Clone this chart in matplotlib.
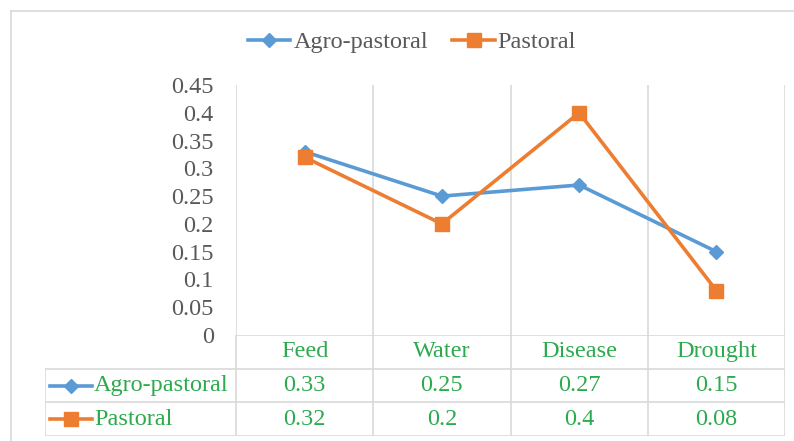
import matplotlib
matplotlib.use("Agg")
import matplotlib.pyplot as plt
from matplotlib.lines import Line2D

categories = ["Feed", "Water", "Disease", "Drought"]
agro = [0.33, 0.25, 0.27, 0.15]
pastoral = [0.32, 0.2, 0.4, 0.08]
series_names = ["Agro-pastoral", "Pastoral"]
cell_text = [["0.33", "0.25", "0.27", "0.15"], ["0.32", "0.2", "0.4", "0.08"]]
yticks = [0, 0.05, 0.1, 0.15, 0.2, 0.25, 0.3, 0.35, 0.4, 0.45]
ytick_labels = ["0", "0.05", "0.1", "0.15", "0.2", "0.25", "0.3", "0.35", "0.4", "0.45"]

BLUE = "#5B9BD5"
ORANGE = "#ED7D31"
GREEN = "#2DAA4E"
GRAY = "#595959"
GRID = "#D9D9D9"
FONT = "Liberation Serif"
FS = 17.5

W, H = 794, 441
fig = plt.figure(figsize=(W / 100, H / 100), dpi=100)
plt.rcParams["font.family"] = FONT


def fx(px):
    return px / W


def fy(py):
    return 1 - py / H

# outer chart border
fig.add_artist(Line2D([fx(11), fx(11)], [fy(11), fy(445)], color=GRID, lw=1.2))
fig.add_artist(Line2D([fx(11), fx(794)], [fy(11), fy(11)], color=GRID, lw=1.2))

# main axes
x0, x1 = 236, 785
ytop, ybot = 85, 335
ax = fig.add_axes([fx(x0), fy(ybot), fx(x1) - fx(x0), fy(ytop) - fy(ybot)])
ax.set_xlim(0, 4)
ax.set_ylim(0, 0.45)
xs = [i + 0.5 for i in range(len(categories))]
ax.plot(xs, agro, color=BLUE, lw=2.6, marker="D", ms=7, mfc=BLUE, mec=BLUE, label=series_names[0],
        solid_joinstyle="round", zorder=3)
ax.plot(xs, pastoral, color=ORANGE, lw=2.6, marker="s", ms=10, mfc=ORANGE, mec=ORANGE, label=series_names[1],
        solid_joinstyle="round", zorder=3)
for s in ax.spines.values():
    s.set_visible(False)
ax.set_xticks([])
ax.set_yticks(yticks)
ax.set_yticklabels(ytick_labels, fontsize=FS, color=GRAY, family=FONT)
ax.tick_params(axis="y", length=0, pad=16)
for xv in range(0, 5):
    ax.axvline(xv, color=GRID, lw=1.2, zorder=1)

# table axes, same x scale as main axes
unit = (x1 - x0) / 4.0
tl = 45
tx_left = (tl - x0) / unit
tb_top, tb_bot = 335, 436
tax = fig.add_axes([fx(tl), fy(tb_bot), fx(x1) - fx(tl), fy(tb_top) - fy(tb_bot)])
tax.set_xlim(tx_left, 4)
tax.set_ylim(0, 3)
tax.axis("off")
# horizontal lines
tax.plot([0, 4], [3, 3], color=GRID, lw=1.2)
for yv in [2, 1, 0]:
    tax.plot([tx_left, 4], [yv, yv], color=GRID, lw=1.2)
# vertical lines
for xv in range(0, 5):
    tax.plot([xv, xv], [0, 3], color=GRID, lw=1.2)
tax.plot([tx_left, tx_left], [0, 2], color=GRID, lw=1.2)

for i, c in enumerate(categories):
    tax.text(i + 0.5, 2.5, c, ha="center", va="center", color=GREEN, fontsize=FS, family=FONT)
for r, row in enumerate(cell_text):
    yc = 1.5 - r
    for i, t in enumerate(row):
        tax.text(i + 0.5, yc, t, ha="center", va="center", color=GREEN, fontsize=FS, family=FONT)

# legend keys in table
key_specs = [(BLUE, "D", 7), (ORANGE, "s", 10)]
for r, (col, mk, ms) in enumerate(key_specs):
    yc = 1.5 - r
    kx0 = (50 - x0) / unit
    kx1 = (92 - x0) / unit
    tax.plot([kx0, kx1], [yc, yc], color=col, lw=2.6, clip_on=False)
    tax.plot([(kx0 + kx1) / 2], [yc], color=col, marker=mk, ms=ms, clip_on=False)
    tax.text((94 - x0) / unit, yc, series_names[r], ha="left", va="center", color=GREEN,
             fontsize=FS, family=FONT)

# top legend
fig.legend(loc="center", bbox_to_anchor=(fx(412), fy(42)), ncol=2, frameon=False,
           prop={"family": FONT, "size": FS}, labelcolor=GRAY, handlelength=1.75,
           handletextpad=0.12, columnspacing=1.0)

fig.savefig("out.png", dpi=100)
